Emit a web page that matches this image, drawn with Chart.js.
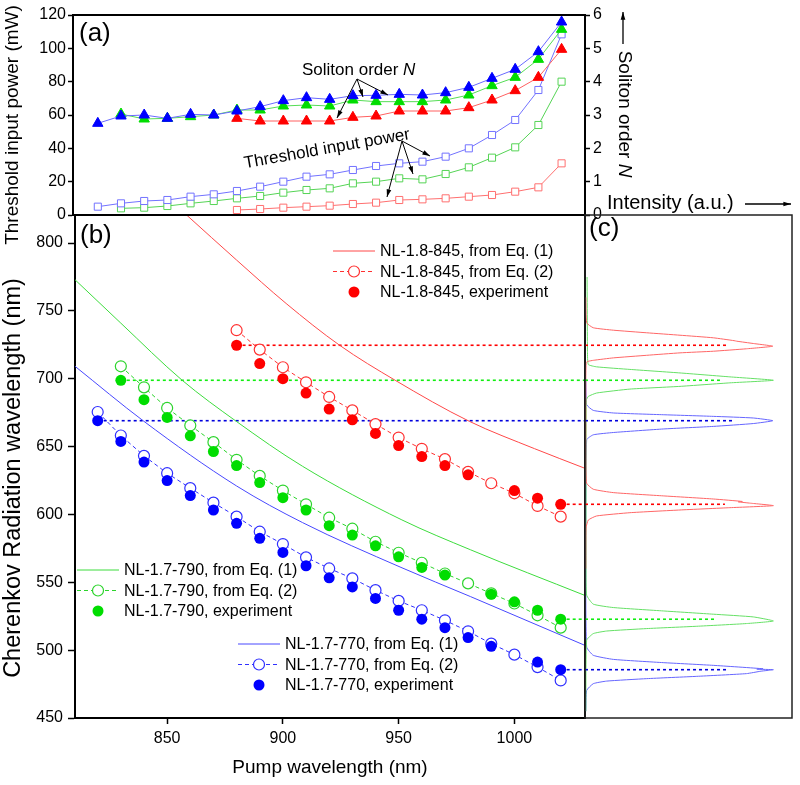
<!DOCTYPE html>
<html>
<head>
<meta charset="utf-8">
<title>Cherenkov radiation vs pump wavelength</title>
<script src="https://cdn.jsdelivr.net/npm/chart.js@4.4.1/dist/chart.umd.min.js"></script>
<style>
  html, body { margin: 0; padding: 0; background: #fff; }
  #wrap { position: relative; width: 800px; height: 785px; }
  #wrap canvas { position: absolute; left: 0; top: 0; }
</style>
</head>
<body>
<div id="wrap">
  <canvas id="panelA" width="800" height="785"></canvas>
  <canvas id="panelB" width="800" height="785"></canvas>
  <canvas id="panelC" width="800" height="785"></canvas>
</div>
<script>
// pump wavelengths (nm), shared by panels (a) and (b)
const pump = [820, 830, 840, 850, 860, 870, 880, 890, 900, 910, 920, 930, 940, 950, 960, 970, 980, 990, 1000, 1010, 1020];

// tick labels
const powerTicks = [0, 20, 40, 60, 80, 100, 120];
const orderTicks = [0, 1, 2, 3, 4, 5, 6];
const pumpTicks = [850, 900, 950, 1000];
const cherenkovTicks = [450, 500, 550, 600, 650, 700, 750, 800];

// (a) soliton order N (right axis)
const solitonBlue  = [2.75, 2.97, 3.0, 2.9, 3.02, 3.0, 3.12, 3.25, 3.43, 3.52, 3.47, 3.58, 3.59, 3.62, 3.6, 3.67, 3.83, 4.1, 4.37, 4.9, 5.79];
const solitonGreen = [null, 3.03, 2.88, 2.9, 2.95, 3.0, 3.15, 3.15, 3.27, 3.3, 3.27, 3.45, 3.4, 3.4, 3.4, 3.45, 3.6, 3.88, 4.13, 4.67, 5.57];
const solitonRed   = [null, null, null, null, null, null, 2.9, 2.82, 2.82, 2.82, 2.82, 2.93, 2.97, 3.12, 3.12, 3.12, 3.22, 3.45, 3.73, 4.13, 4.97];

// (a) threshold input power, mW (left axis)
const thresholdBlue  = [5.0, 7.0, 8.4, 9.0, 11, 12.4, 14.4, 17, 20, 23, 24.4, 27, 29.4, 31, 32, 35, 40, 48, 57, 75, 108.4];
const thresholdGreen = [null, 4.0, 4.4, 5.4, 7.0, 8.4, 10, 11.4, 13.4, 15, 16, 19, 20, 22, 21.4, 24.6, 28.6, 34.4, 40.6, 54, 80];
const thresholdRed   = [null, null, null, null, null, null, 3.0, 3.6, 4.4, 5.0, 5.6, 6.6, 7.4, 9.0, 9.4, 10, 11, 12, 14, 16.6, 31];

// (b) Cherenkov wavelength from Eq. (2), nm
const eq2Blue  = [675.5, 658.2, 643.2, 630.4, 619.4, 608.7, 598.4, 587.3, 578.2, 568.4, 560.2, 552.9, 544.2, 536.3, 529.4, 522, 513.9, 504.8, 496.7, 487.5, 477.7];
const eq2Green = [null, 709.2, 693.7, 678.5, 665.6, 653.3, 640.3, 628.4, 617.6, 607.5, 597.6, 589.5, 579.9, 571.8, 564.4, 556.5, 549.2, 541.8, 534.4, 525.7, 516.6];
const eq2Red   = [null, null, null, null, null, null, 735.8, 721.5, 708.5, 697.4, 686.6, 676.7, 666.6, 656.7, 648.4, 640.8, 631.4, 623, 615.6, 606.3, 598.4];

// (b) measured Cherenkov wavelength, nm
const expBlue  = [669.1, 653.8, 638.6, 625, 613.9, 603.3, 593.5, 582.4, 572, 562.2, 553.3, 546.6, 538.1, 529.4, 522.8, 516.6, 509.3, 502.8, null, 491.2, 485.6];
const expGreen = [null, 698.9, 684.6, 671.5, 658, 646.4, 636, 623.5, 612.4, 603.3, 591.7, 584.8, 576.9, 568.8, 561, 555.3, null, 541.2, 535.6, 529.4, 522.8];
const expRed   = [null, null, null, null, null, null, 724.7, 711.2, 700.1, 689.5, 677.7, 669.8, 659.7, 650.8, 642.7, 636, 629.2, null, 617.6, 612, 607.5];

// (b) Eq. (1) curves
const eq1RedPump   = [858.4, 880, 901.4, 924.5, 948.5, 980.6, 1008.7, 1030.5];
const eq1RedNm     = [820.7, 787.5, 755.5, 724.7, 698.9, 668.6, 648.5, 634];
const eq1GreenPump = [810.2, 830, 856.5, 879.9, 908.5, 951.4, 981, 1030.5];
const eq1GreenNm   = [773, 741, 698.9, 668.6, 635.5, 596, 574, 540.3];
const eq1BluePump  = [810.2, 840, 880, 908.5, 951, 981, 1030.5];
const eq1BlueNm    = [709.2, 668.6, 621, 594, 561, 539.5, 503.5];

// (c) emission spectra: wavelength (nm) and intensity (a.u.)
const specRedNm = [560, 590, 595.9, 598.9, 601.3, 603.3, 605, 606.5, 608.3, 609.3, 609.6, 611.4, 613.7, 616.1, 618.6, 623, 640, 700, 712, 712.9, 713.6, 715.4, 717.3, 719.1, 720.3, 722.1, 724, 726, 727.7, 728.1, 730.2, 732.1, 733.9, 735.8, 737.6, 741.3, 760];
const specRedI  = [0.004, 0.005, 0.016, 0.056, 0.217, 0.459, 0.70, 0.91, 0.80, 0.74, 0.76, 0.62, 0.378, 0.137, 0.04, 0.008, 0.004, 0.004, 0.006, 0.016, 0.04, 0.137, 0.298, 0.459, 0.62, 0.78, 0.907, 0.813, 0.733, 0.72, 0.62, 0.459, 0.298, 0.137, 0.04, 0.008, 0.004];
const specGreenNm = [455, 507.3, 512.2, 514.1, 515.9, 517.6, 519.6, 521.5, 524.5, 526.5, 528.9, 531.4, 533.9, 540.5, 560, 684, 687, 689.5, 692.4, 694.4, 697, 698.9, 701.4, 704.3, 706.9, 708.8, 710.5, 720, 775];
const specGreenI  = [0.004, 0.008, 0.04, 0.105, 0.298, 0.54, 0.78, 0.91, 0.813, 0.62, 0.378, 0.137, 0.04, 0.008, 0.005, 0.006, 0.016, 0.056, 0.217, 0.459, 0.70, 0.91, 0.70, 0.459, 0.217, 0.056, 0.016, 0.012, 0.01];
const specBlueNm = [455, 470.3, 475.3, 477.2, 479, 480.7, 482.7, 484.5, 485.6, 486.0, 486.3, 488.8, 490.8, 493.2, 496.2, 502.3, 560, 655, 658.7, 660.4, 663, 664.9, 667, 669.1, 671.1, 672.3, 673.5, 674.8, 676.7, 680.9, 700];
const specBlueI  = [0.004, 0.008, 0.04, 0.105, 0.298, 0.54, 0.78, 0.85, 0.91, 0.83, 0.86, 0.62, 0.378, 0.137, 0.04, 0.008, 0.004, 0.008, 0.04, 0.137, 0.378, 0.62, 0.813, 0.907, 0.813, 0.62, 0.378, 0.137, 0.04, 0.008, 0.004];

// (c) where the dotted guide lines stop (intensity), upper peak then lower peak
const guideEndRed   = [0.684, 0.676];
const guideEndGreen = [0.652, 0.628];
const guideEndBlue  = [0.716, 0.684];

const FONT = '"Liberation Sans", Arial, Helvetica, sans-serif';
Chart.defaults.font.family = FONT;
Chart.defaults.color = '#000';

const RED = '#ff0000', GREEN = '#00dd00', BLUE = '#0000ff';

function series(xs, ys) {
  return xs.map((x, i) => ({ x: x, y: ys[i] })).filter(p => p.y !== null);
}
function firstIndex(arr) { return arr.findIndex(v => v !== null); }

function arrow(ctx, x1, y1, x2, y2) {
  const a = Math.atan2(y2 - y1, x2 - x1), head = 8;
  ctx.beginPath(); ctx.moveTo(x1, y1); ctx.lineTo(x2, y2); ctx.stroke();
  ctx.beginPath();
  ctx.moveTo(x2, y2);
  ctx.lineTo(x2 - head * Math.cos(a - 0.3), y2 - head * Math.sin(a - 0.3));
  ctx.lineTo(x2 - head * Math.cos(a + 0.3), y2 - head * Math.sin(a + 0.3));
  ctx.closePath(); ctx.fill();
}

function fixedTicks(list) {
  return s => { s.ticks = list.map(v => ({ value: v })); };
}
const plainLabel = v => String(v);

const baseOptions = {
  responsive: false,
  animation: false,
  events: [],
  plugins: { legend: { display: false }, tooltip: { enabled: false } }
};

// ---------- panel (a) ----------
function triangles(ys, fill, line) {
  return { data: series(pump, ys), yAxisID: 'yN', borderColor: line, borderWidth: 1,
    pointStyle: 'triangle', pointRadius: 6, pointBackgroundColor: fill, pointBorderColor: fill, pointBorderWidth: 1, order: 0 };
}
function squares(ys, color) {
  return { data: series(pump, ys), yAxisID: 'yP', borderColor: color, borderWidth: 1,
    pointStyle: 'rect', pointRadius: 5, pointBackgroundColor: '#fff', pointBorderColor: color, pointBorderWidth: 1, order: 1 };
}

const panelAExtras = {
  id: 'panelAExtras',
  afterDraw(chart) {
    const ctx = chart.ctx, area = chart.chartArea;
    ctx.save();
    ctx.strokeStyle = '#000'; ctx.fillStyle = '#000'; ctx.lineWidth = 2;
    ctx.beginPath();
    ctx.moveTo(area.left, area.top); ctx.lineTo(area.right, area.top);
    ctx.moveTo(area.left, area.bottom); ctx.lineTo(area.right, area.bottom);
    ctx.stroke();

    ctx.textBaseline = 'middle';
    ctx.font = '26px ' + FONT;
    ctx.fillText('(a)', 79, 34);

    // axis titles
    ctx.font = '19px ' + FONT;
    ctx.textAlign = 'center';
    ctx.save(); ctx.translate(13, 125); ctx.rotate(-Math.PI / 2);
    ctx.fillText('Threshold input power (mW)', 0, 0);
    ctx.restore();

    ctx.save(); ctx.translate(624, 114); ctx.rotate(Math.PI / 2);
    ctx.textAlign = 'left';
    const plain = 'Soliton order ';
    ctx.font = '19px ' + FONT;
    const w1 = ctx.measureText(plain).width;
    ctx.font = 'italic 19px ' + FONT;
    const w2 = ctx.measureText('N').width;
    ctx.font = '19px ' + FONT;
    ctx.fillText(plain, -(w1 + w2) / 2, 0);
    ctx.font = 'italic 19px ' + FONT;
    ctx.fillText('N', -(w1 + w2) / 2 + w1, 0);
    ctx.restore();
    ctx.lineWidth = 1.3;
    arrow(ctx, 623, 44, 623, 12);

    // annotations
    ctx.lineWidth = 1;
    ctx.textAlign = 'left';
    ctx.font = '17px ' + FONT;
    const t1 = 'Soliton order ';
    ctx.fillText(t1, 302, 70);
    const tw = ctx.measureText(t1).width;
    ctx.font = 'italic 17px ' + FONT;
    ctx.fillText('N', 302 + tw, 70);
    arrow(ctx, 357, 79, 337, 118);
    arrow(ctx, 357, 79, 363, 97);
    arrow(ctx, 357, 79, 388, 95);

    ctx.font = '17px ' + FONT;
    ctx.save(); ctx.translate(327, 149); ctx.rotate(-10 * Math.PI / 180);
    ctx.textAlign = 'center';
    ctx.fillText('Threshold input power', 0, 0);
    ctx.restore();
    arrow(ctx, 402, 141, 430, 156);
    arrow(ctx, 402, 141, 413, 174);
    arrow(ctx, 402, 141, 387, 197);
    ctx.restore();
  }
};

new Chart(document.getElementById('panelA'), {
  type: 'line',
  data: {
    datasets: [
      triangles(solitonBlue, BLUE, '#6a6aff'),
      triangles(solitonGreen, GREEN, '#55dd55'),
      triangles(solitonRed, RED, '#ff6060'),
      squares(thresholdBlue, '#7272ff'),
      squares(thresholdGreen, '#55d455'),
      squares(thresholdRed, '#ff6f6f')
    ]
  },
  options: Object.assign({}, baseOptions, {
    layout: { padding: { left: 0, right: 0, top: 15, bottom: 570 } },
    scales: {
      x: { type: 'linear', min: 809.3, max: 1030.1, display: false },
      yP: {
        type: 'linear', position: 'left', min: 0, max: 120,
        afterFit: s => { s.width = 73; },
        afterBuildTicks: fixedTicks(powerTicks),
        grid: { drawOnChartArea: false, tickLength: 5, tickColor: '#000', tickWidth: 1.5 },
        border: { color: '#000', width: 2 },
        ticks: { font: { size: 16 }, padding: 2, color: '#000', callback: plainLabel }
      },
      yN: {
        type: 'linear', position: 'right', min: 0, max: 6,
        afterFit: s => { s.width = 215; },
        afterBuildTicks: fixedTicks(orderTicks),
        grid: { drawOnChartArea: false, tickLength: 5, tickColor: '#000', tickWidth: 1.5 },
        border: { color: '#000', width: 2 },
        ticks: { font: { size: 16 }, padding: 3, color: '#000', callback: plainLabel }
      }
    }
  }),
  plugins: [panelAExtras]
});

// ---------- panel (b) ----------
function eq1(label, xs, ys, color) {
  return { label: label, data: series(xs, ys), borderColor: color, borderWidth: 1, pointRadius: 0,
    cubicInterpolationMode: 'monotone', order: 2 };
}
function eq2(label, ys, color) {
  return { label: label, data: series(pump, ys), borderColor: color, borderWidth: 1, borderDash: [4, 3],
    pointStyle: 'circle', pointRadius: 5.5, pointBackgroundColor: '#fff', pointBorderColor: color, pointBorderWidth: 1.2, order: 1 };
}
function experiment(label, ys, color) {
  return { label: label, data: series(pump, ys), showLine: false, pointStyle: 'circle', pointRadius: 5.5,
    pointBackgroundColor: color, pointBorderColor: color, pointBorderWidth: 0, order: 0 };
}
function guide(i, ys, color, xEnd) {
  return { data: [{ x: pump[i], y: ys[i] }, { x: xEnd, y: ys[i] }], borderColor: color, borderWidth: 1.6,
    borderDash: [3, 3], pointRadius: 0, order: 3 };
}

const X_MIN = 810.2, X_MAX = 1030.5, Y_MIN = 450, Y_MAX = 820.7;
const last = pump.length - 1;

const panelBDatasets = [
  eq1('NL-1.8-845, from Eq. (1)', eq1RedPump, eq1RedNm, '#ff4848'),
  eq2('NL-1.8-845, from Eq. (2)', eq2Red, '#ff3030'),
  experiment('NL-1.8-845, experiment', expRed, RED),
  eq1('NL-1.7-790, from Eq. (1)', eq1GreenPump, eq1GreenNm, '#3ddc3d'),
  eq2('NL-1.7-790, from Eq. (2)', eq2Green, '#2cd42c'),
  experiment('NL-1.7-790, experiment', expGreen, GREEN),
  eq1('NL-1.7-770, from Eq. (1)', eq1BluePump, eq1BlueNm, '#4848ff'),
  eq2('NL-1.7-770, from Eq. (2)', eq2Blue, '#3030ff'),
  experiment('NL-1.7-770, experiment', expBlue, BLUE),
  guide(firstIndex(expRed), expRed, RED, X_MAX),
  guide(firstIndex(expGreen), expGreen, '#11ee11', X_MAX),
  guide(firstIndex(expBlue), expBlue, '#0000dd', X_MAX),
  guide(last, expRed, RED, X_MAX),
  guide(last, expGreen, '#11ee11', X_MAX),
  guide(last, expBlue, '#0000dd', X_MAX)
];

// legend groups: dataset indices and where each group sits
const legendGroups = [
  { sets: [0, 1, 2], x: 333, y: 251 },
  { sets: [3, 4, 5], x: 77, y: 570 },
  { sets: [6, 7, 8], x: 238, y: 644 }
];

const panelBExtras = {
  id: 'panelBExtras',
  afterDraw(chart) {
    const ctx = chart.ctx, area = chart.chartArea;
    ctx.save();
    ctx.strokeStyle = '#000'; ctx.lineWidth = 2;
    ctx.beginPath();
    ctx.moveTo(area.left, area.top); ctx.lineTo(area.right, area.top); ctx.lineTo(area.right, area.bottom);
    ctx.stroke();

    ctx.fillStyle = '#000';
    ctx.textBaseline = 'middle';
    ctx.font = '26px ' + FONT;
    ctx.fillText('(b)', 80, 236);

    // y axis title
    ctx.save();
    ctx.font = '23.5px ' + FONT;
    ctx.textAlign = 'center';
    ctx.translate(14, 478); ctx.rotate(-Math.PI / 2);
    ctx.fillText('Cherenkov Radiation wavelength (nm)', 0, 0);
    ctx.restore();

    ctx.font = '16px ' + FONT;
    legendGroups.forEach(g => {
      g.sets.forEach((di, row) => {
        const ds = chart.data.datasets[di];
        const y = g.y + row * 20.5;
        const x0 = g.x, x1 = g.x + 42, xm = (x0 + x1) / 2;
        if (ds.pointRadius === 0 || ds.borderDash) {
          ctx.save();
          ctx.strokeStyle = ds.borderColor; ctx.lineWidth = 1;
          ctx.setLineDash(ds.borderDash || []);
          ctx.beginPath(); ctx.moveTo(x0, y); ctx.lineTo(x1, y); ctx.stroke();
          ctx.restore();
        }
        if (ds.pointRadius > 0) {
          ctx.beginPath(); ctx.arc(xm, y, ds.pointRadius, 0, Math.PI * 2);
          ctx.fillStyle = ds.pointBackgroundColor; ctx.fill();
          if (ds.pointBorderWidth) {
            ctx.strokeStyle = ds.pointBorderColor; ctx.lineWidth = ds.pointBorderWidth; ctx.stroke();
          }
        }
        ctx.fillStyle = '#000';
        ctx.fillText(ds.label, x1 + 5, y + 1);
      });
    });
    ctx.restore();
  }
};

new Chart(document.getElementById('panelB'), {
  type: 'line',
  data: { datasets: panelBDatasets },
  options: Object.assign({}, baseOptions, {
    layout: { padding: { left: 0, right: 215, top: 215, bottom: 0 } },
    scales: {
      x: {
        type: 'linear', position: 'bottom', min: X_MIN, max: X_MAX,
        afterFit: s => { s.height = 67; },
        afterBuildTicks: fixedTicks(pumpTicks),
        grid: { drawOnChartArea: false, tickLength: 6, tickColor: '#000', tickWidth: 1.5 },
        border: { color: '#000', width: 2 },
        ticks: { font: { size: 16 }, padding: 5, color: '#000', maxRotation: 0, callback: plainLabel },
        title: { display: true, text: 'Pump wavelength (nm)', font: { size: 19 }, padding: { top: 0, bottom: 6 } }
      },
      y: {
        type: 'linear', position: 'left', min: Y_MIN, max: Y_MAX,
        afterFit: s => { s.width = 75; },
        afterBuildTicks: fixedTicks(cherenkovTicks),
        grid: { drawOnChartArea: false, tickLength: 7, tickColor: '#000', tickWidth: 1.5 },
        border: { color: '#000', width: 2 },
        ticks: { font: { size: 16 }, padding: 5, color: '#000', callback: plainLabel }
      }
    }
  }),
  plugins: [panelBExtras]
});

// ---------- panel (c) ----------
function spectrum(nm, inten, color) {
  return { data: nm.map((v, i) => ({ x: inten[i], y: v })), borderColor: color, borderWidth: 1,
    pointRadius: 0, tension: 0.15, order: 1 };
}
function guideC(value, end, color) {
  return { data: [{ x: 0, y: value }, { x: end, y: value }], borderColor: color, borderWidth: 1.6,
    borderDash: [3, 3], pointRadius: 0, order: 0 };
}

const panelCExtras = {
  id: 'panelCExtras',
  afterDraw(chart) {
    const ctx = chart.ctx, area = chart.chartArea;
    ctx.save();
    ctx.strokeStyle = '#222'; ctx.lineWidth = 1.5;
    ctx.strokeRect(area.left, area.top, area.right - area.left, area.bottom - area.top);
    ctx.fillStyle = '#000';
    ctx.textBaseline = 'middle';
    ctx.font = '26px ' + FONT;
    ctx.fillText('(c)', 589, 229);
    ctx.font = '20px ' + FONT;
    ctx.fillText('Intensity (a.u.)', 607, 203);
    ctx.strokeStyle = '#000'; ctx.lineWidth = 1.3;
    arrow(ctx, 745, 204, 791, 204);
    ctx.restore();
  }
};

new Chart(document.getElementById('panelC'), {
  type: 'line',
  data: {
    datasets: [
      spectrum(specRedNm, specRedI, '#ff6666'),
      spectrum(specGreenNm, specGreenI, '#66e066'),
      spectrum(specBlueNm, specBlueI, '#6666ff'),
      guideC(expRed[firstIndex(expRed)], guideEndRed[0], RED),
      guideC(expGreen[firstIndex(expGreen)], guideEndGreen[0], '#11ee11'),
      guideC(expBlue[firstIndex(expBlue)], guideEndBlue[0], '#0000dd'),
      guideC(expRed[last], guideEndRed[1], RED),
      guideC(expGreen[last], guideEndGreen[1], '#11ee11'),
      guideC(expBlue[last], guideEndBlue[1], '#0000dd')
    ]
  },
  options: Object.assign({}, baseOptions, {
    layout: { padding: { left: 585, right: 8, top: 215, bottom: 67 } },
    scales: {
      x: { type: 'linear', min: 0, max: 1, display: false },
      y: { type: 'linear', min: Y_MIN, max: Y_MAX, display: false }
    }
  }),
  plugins: [panelCExtras]
});
</script>
</body>
</html>
